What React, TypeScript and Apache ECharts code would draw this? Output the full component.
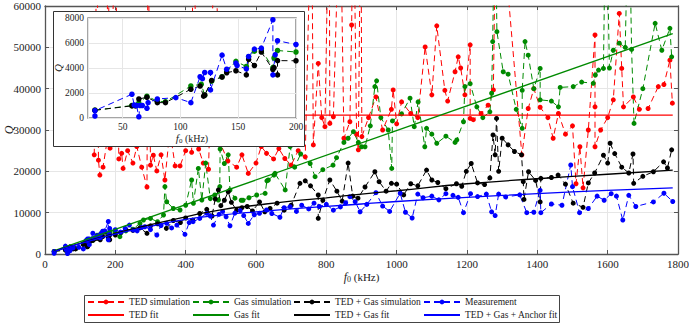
import React, { useEffect, useRef } from "react";
import * as echarts from "echarts";

const FONT = "Liberation Serif";
const RED = "#ff0000";
const GREEN = "#008a00";
const BLACK = "#000000";
const BLUE = "#0000ff";

// TED simulation
const tedF = [140,148,152,156,165,175,179,185,199,210,218,222,235,250,261,275,290,293,300,308,318,330,341,355,370,384,400,417,421,437,450,465,483,500,520,545,560,578,600,615,630,650,665,682,700,720,740,758,763,777,787,796,808,810,820,839,850,867,872,877,886,891,898,901,920,941,960,985,990,1000,1014,1040,1060,1081,1100,1114,1137,1145,1166,1175,1182,1194,1209,1209,1218,1240,1260,1275,1283,1290,1356,1374,1390,1408,1430,1445,1460,1480,1500,1510,1521,1530,1545,1564,1564,1564,1580,1600,1616,1633,1640,1645,1673,1690,1715,1744,1760,1777,1784];
const tedQ = [24000,80000,22700,19100,21000,26500,80000,25600,80000,23000,24350,20700,25000,22000,26000,21000,16200,80000,21500,23900,20100,24000,17900,30000,21300,21300,25000,24600,80000,25400,22000,20500,80000,26500,22500,21000,24000,19500,22000,26000,24350,23000,25500,23100,21500,25000,23500,90000,26400,46100,33000,30800,90000,31600,33200,90000,28000,32000,55400,90000,29000,25200,90000,28400,33000,38000,30000,35000,39700,31500,36800,34000,33000,50100,38500,55200,39600,37000,44100,47700,45000,38500,50600,32800,32500,34000,36000,39700,90000,90000,24000,35200,40000,35500,33000,28000,34000,29000,31000,17000,25950,16000,30000,53000,35600,25950,30000,33000,37300,58200,44900,35600,38000,35000,35200,40500,41000,46900,36500];

// Gas simulation
const gasF = [26,58,64,71,80,87,109,118,121,127,136,140,148,157,159,164,170,180,181,184,200,213,230,250,270,280,300,320,337,341,346,365,384,400,417,422,436,446,457,470,483,493,497,498,510,521,526,540,558,563,580,602,626,631,635,651,654,683,697,710,727,754,768,790,819,829,850,862,877,891,900,910,925,938,943,955,976,986,988,1014,1038,1050,1061,1080,1085,1100,1114,1140,1166,1171,1190,1194,1209,1228,1245,1265,1270,1273,1280,1285,1303,1317,1340,1357,1357,1365,1374,1390,1408,1408,1440,1460,1465,1502,1526,1559,1565,1574,1588,1595,1605,1616,1633,1650,1660,1668,1675,1700,1735,1754,1777,1782];
const gasQ = [620,1000,1200,1740,1350,1300,2560,2700,1820,2950,3300,3700,4530,4120,4900,5350,5450,4030,4800,5400,5280,4190,5600,6000,7400,8230,8600,7800,9430,16300,12650,11000,10640,11800,17900,12260,20700,13060,22000,13400,14270,13060,16300,25400,21900,24000,15480,13500,13000,13000,13600,14270,14680,17700,17900,19100,19500,15500,26000,21000,24200,21900,18700,20400,21500,23300,27000,28000,29600,27000,25950,25950,31000,40500,41900,33000,30000,20700,32200,33900,37700,30800,36800,25950,30400,29000,26800,28500,27000,27600,32000,40500,41200,35600,33000,34400,38900,51400,90000,53800,44100,43500,35000,30400,39600,51400,48100,40000,44900,37300,37000,35600,40300,40500,41600,41300,43300,44500,44900,90000,45000,49300,51000,50000,90000,49500,31600,40000,55800,49300,54600,47700];

// TED + Gas simulation
const tgF = [26,58,61,64,71,80,87,109,117,120,121,127,136,140,148,157,159,164,170,180,181,184,184,200,215,230,250,270,290,300,320,345,365,385,400,420,440,460,475,484,493,500,510,521,530,545,560,575,590,610,625,640,660,680,700,725,740,755,777,777,790,810,830,845,862,875,890,910,938,950,970,985,1000,1020,1040,1060,1085,1100,1117,1140,1170,1185,1198,1212,1230,1250,1265,1274,1280,1284,1290,1300,1317,1335,1355,1360,1362,1375,1395,1408,1410,1440,1459,1480,1502,1530,1545,1563,1588,1600,1607,1620,1640,1660,1672,1674,1700,1730,1759,1770,1782];
const tgQ = [620,970,970,1520,1660,1230,1230,2300,2560,1750,1840,3000,3280,3620,3780,3450,4690,4200,5280,3880,4030,3450,4590,4580,5200,5900,5700,6300,5000,6800,7300,6200,8100,7600,8700,8200,9800,10800,9200,13300,15500,11700,13000,15070,12500,10600,11200,11500,10400,12600,10200,11000,12300,10600,11800,17100,17700,16500,14270,8630,13000,17900,15200,12800,22000,14000,13500,16200,19900,17500,15200,17100,16900,14300,17000,16500,20300,17900,17300,15800,17000,16400,20000,21900,17200,16800,18400,28800,24000,32800,20000,28000,26400,24800,24000,17500,13200,19900,17800,12600,18300,18500,19100,16900,12300,11300,17200,19600,23900,22000,26800,24300,21000,19600,24200,17100,18800,19900,22300,20800,25200];

// Measurement
const measF = [26,26,58,60,62,64,65,67,71,72,80,96,109,117,119,121,126,126,136,140,148,149,157,159,164,170,180,180,182,184,200,215,228,240,251,262,275,284,300,318,330,346,360,375,398,410,421,440,460,470,479,495,505,515,526,540,555,565,578,595,610,630,645,668,680,697,715,730,750,765,780,800,820,840,855,867,882,896,915,941,960,980,1010,1025,1044,1060,1075,1100,1120,1140,1160,1175,1190,1210,1230,1255,1270,1280,1290,1310,1350,1370,1390,1408,1410,1440,1470,1495,1500,1520,1545,1570,1590,1610,1625,1643,1660,1680,1730,1760,1785];
const measQ = [160,590,1900,1040,1000,100,1000,1000,780,1230,1520,1630,1230,3300,3150,3640,3640,2250,5030,3900,4390,4200,3930,4920,5510,5590,7860,3450,5060,6180,5880,5300,6200,7000,5800,5600,6400,6600,5900,4600,6900,7420,6300,7000,4760,7600,7820,8600,9840,9200,7000,9600,10300,9000,6830,9900,10500,9300,7400,9500,9840,10640,9800,8900,11200,11450,10300,11800,10900,12300,11500,12000,10600,11400,12400,13870,12660,10220,12000,14830,11600,10300,14700,10100,8700,14500,13600,14000,13100,14600,14200,13700,10000,14600,13900,14500,10200,9300,14500,13800,14300,10000,10100,15400,10000,12100,11800,21530,16300,10000,11000,14000,13000,14600,14000,8220,14200,11500,12600,14700,12700];

// Fits
const tedFitF = [25, 1785];
const tedFitQ = [33600, 33600];
const gasFitF = [25, 1785];
const gasFitQ = [750, 53300];
const tgFitF = [25,100,200,300,400,500,600,700,800,900,1000,1200,1400,1600,1785];
const tgFitQ = [650,2600,5000,7100,9000,10700,11800,12800,13600,14500,15300,17000,18200,19300,20300];
const measFitF = [25,100,200,300,400,500,600,700,800,900,1000,1200,1400,1600,1785];
const measFitQ = [600,2500,4800,6700,8400,9400,10200,10900,11500,12100,12700,13700,14600,15400,16000];

const mainXTicks = { min: 0, max: 1800, interval: 200 };
const mainYTicks = { min: 0, max: 60000, interval: 10000 };
const insetX = { min: 20, max: 200 };
const insetY = { min: 0, max: 8000, interval: 2000 };

const pairs = (fs: number[], qs: number[], maxF = Infinity) =>
  fs.map((f, i) => [f, qs[i]]).filter((p) => p[0] <= maxF);

const DASH = [6, 4];
const plain = (v: number) => String(v);

export default function App() {
  const ref = useRef<HTMLDivElement>(null);
  useEffect(() => {
    if (!ref.current) return;
    const chart = echarts.init(ref.current, null, { renderer: "svg" });
    const axisText = { fontFamily: FONT, fontSize: 11, color: "#222" };
    const nameRich = (size: number) => ({
      i: { fontFamily: FONT, fontStyle: "italic", fontSize: size + 1, color: "#222" },
      s: { fontFamily: FONT, fontSize: size - 3, color: "#222", padding: [5, 0, 0, 0] },
      t: { fontFamily: FONT, fontSize: size, color: "#222" },
    });
    const simSeries = (name: string, color: string, data: number[][], xi: number, yi: number, z: number, size: number) => ({
      name,
      type: "line",
      xAxisIndex: xi,
      yAxisIndex: yi,
      data,
      z,
      symbol: "circle",
      symbolSize: size,
      itemStyle: { color },
      lineStyle: { color, width: 1, type: DASH },
      clip: true,
    });
    const fitSeries = (name: string, color: string, data: number[][], smooth: boolean) => ({
      name,
      type: "line",
      xAxisIndex: 0,
      yAxisIndex: 0,
      data,
      z: 3,
      symbol: "none",
      smooth,
      itemStyle: { color },
      lineStyle: { color, width: 1.3, type: "solid" },
      clip: true,
    });
    const legendBase = {
      orient: "vertical",
      top: 297,
      itemWidth: 36,
      itemHeight: 6,
      itemGap: 3,
      padding: 0,
      textStyle: { fontFamily: FONT, fontSize: 9.5, color: "#222" },
    };
    const fitItem = (name: string) => ({
      name,
      itemStyle: { color: "rgba(0,0,0,0)", borderWidth: 0, borderColor: "rgba(0,0,0,0)" },
    });
    const option = {
      animation: false,
      backgroundColor: "#fff",
      grid: [
        { left: 45, right: 11, top: 6, bottom: 70, outerBoundsMode: "none", containLabel: false },
        {
          left: 88, right: 393, top: 18, bottom: 206, show: true, outerBoundsMode: "none", containLabel: false,
          backgroundColor: "#fff", borderColor: "#888", borderWidth: 1.5, z: 51,
        },
      ],
      xAxis: [
        {
          gridIndex: 0, type: "value", ...mainXTicks, position: "bottom",
          axisLine: { show: true, lineStyle: { color: "#555", width: 1.3 } },
          axisTick: { show: true, inside: true, length: 4, lineStyle: { color: "#555" } },
          axisLabel: { ...axisText, margin: 4, formatter: plain },
          splitLine: { show: true, lineStyle: { color: "#e6e6e6", width: 1 } },
          name: "{i|f}{s|0}{t| (kHz)}", nameLocation: "middle", nameGap: 16, nameMoveOverlap: false,
          nameTextStyle: { rich: nameRich(11) },
        },
        {
          gridIndex: 0, type: "value", ...mainXTicks, position: "top",
          axisLine: { show: true, onZero: false, lineStyle: { color: "#555", width: 1.3 } },
          axisTick: { show: true, inside: true, length: 4, lineStyle: { color: "#555" } },
          axisLabel: { show: false }, splitLine: { show: false },
        },
        {
          gridIndex: 1, type: "value", ...insetX, splitNumber: 4, z: 52,
          axisLine: { show: false }, axisTick: { show: false },
          axisLabel: { fontFamily: FONT, fontSize: 9.5, color: "#222", margin: 4, showMinLabel: false, formatter: plain },
          splitLine: { show: true, lineStyle: { color: "#e6e6e6" } },
          name: "{i|f}{s|0}{t| (kHz)}", nameLocation: "middle", nameGap: 14, nameMoveOverlap: false,
          nameTextStyle: { rich: nameRich(10) },
        },
      ],
      yAxis: [
        {
          gridIndex: 0, type: "value", ...mainYTicks, position: "left",
          axisLine: { show: true, lineStyle: { color: "#555", width: 1.3 } },
          axisTick: { show: true, inside: true, length: 4, lineStyle: { color: "#555" } },
          axisLabel: { ...axisText, margin: 4, formatter: plain },
          splitLine: { show: true, lineStyle: { color: "#e6e6e6", width: 1 } },
          name: "Q", nameLocation: "middle", nameGap: 30, nameRotate: 90, nameMoveOverlap: false,
          nameTextStyle: { fontFamily: FONT, fontStyle: "italic", fontSize: 12, color: "#222" },
        },
        {
          gridIndex: 0, type: "value", ...mainYTicks, position: "right",
          axisLine: { show: true, onZero: false, lineStyle: { color: "#555", width: 1.3 } },
          axisTick: { show: true, inside: true, length: 4, lineStyle: { color: "#555" } },
          axisLabel: { show: false }, splitLine: { show: false },
        },
        {
          gridIndex: 1, type: "value", ...insetY, z: 52,
          axisLine: { show: false }, axisTick: { show: false },
          axisLabel: { fontFamily: FONT, fontSize: 9.5, color: "#222", margin: 4, formatter: plain },
          splitLine: { show: true, lineStyle: { color: "#e6e6e6" } },
          name: "Q", nameLocation: "middle", nameGap: 25, nameRotate: 90, nameMoveOverlap: false,
          nameTextStyle: { fontFamily: FONT, fontStyle: "italic", fontSize: 11, color: "#222" },
        },
      ],
      legend: [
        { ...legendBase, left: 87, data: ["TED simulation", fitItem("TED fit")] },
        { ...legendBase, left: 192, data: ["Gas simulation", fitItem("Gas fit")] },
        { ...legendBase, left: 293, data: ["TED + Gas simulation", fitItem("TED + Gas fit")] },
        { ...legendBase, left: 423, data: ["Measurement", fitItem("TED + Gas + Anchor fit")] },
      ],
      graphic: [
        {
          type: "rect", z: 50, silent: true,
          shape: { x: 53.5, y: 11.5, width: 251, height: 135 },
          style: { fill: "#fff", stroke: "#333", lineWidth: 1 },
        },
        {
          type: "rect", z: 1, silent: true,
          shape: { x: 84.5, y: 295.5, width: 475, height: 27 },
          style: { fill: "#fff", stroke: "#444", lineWidth: 1 },
        },
      ],
      series: [
        simSeries("TED simulation", RED, pairs(tedF, tedQ), 0, 0, 2, 5),
        simSeries("Gas simulation", GREEN, pairs(gasF, gasQ), 0, 0, 2, 5),
        simSeries("TED + Gas simulation", BLACK, pairs(tgF, tgQ), 0, 0, 2, 5),
        simSeries("Measurement", BLUE, pairs(measF, measQ), 0, 0, 2, 5),
        fitSeries("TED fit", RED, pairs(tedFitF, tedFitQ), false),
        fitSeries("Gas fit", GREEN, pairs(gasFitF, gasFitQ), false),
        fitSeries("TED + Gas fit", BLACK, pairs(tgFitF, tgFitQ), true),
        fitSeries("TED + Gas + Anchor fit", BLUE, pairs(measFitF, measFitQ), true),
        simSeries("inset gas", GREEN, pairs(gasF, gasQ, 200), 2, 2, 53, 5.5),
        simSeries("inset ted gas", BLACK, pairs(tgF, tgQ, 200), 2, 2, 53, 5.5),
        simSeries("inset meas", BLUE, pairs(measF, measQ, 200), 2, 2, 53, 5.5),
      ],
    };
    chart.setOption(option as any);
    return () => chart.dispose();
  }, []);
  return (
    <div
      ref={ref}
      style={{ position: "fixed", left: 0, top: 0, width: 689, height: 324, background: "#fff" }}
    />
  );
}
